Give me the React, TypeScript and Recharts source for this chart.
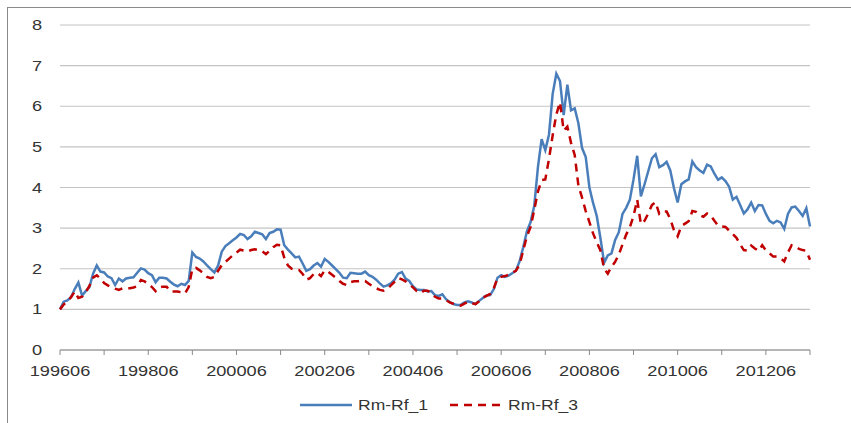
import { LineChart, Line, XAxis, YAxis, CartesianGrid, Legend } from "recharts";

// monthly series, 199606 .. 201306
const rmRf1 = [
  1.0, 1.19, 1.22, 1.3, 1.5, 1.66, 1.34, 1.45, 1.55, 1.88, 2.08, 1.93, 1.91, 1.81, 1.77, 1.6, 1.76, 1.69, 1.76, 1.78,
  1.79, 1.9, 2.01, 1.98, 1.89, 1.84, 1.67, 1.78, 1.78, 1.76, 1.68, 1.61, 1.57, 1.63, 1.6, 1.7, 2.4, 2.29, 2.25, 2.18,
  2.08, 1.99, 1.91, 2.08, 2.42, 2.56, 2.63, 2.7, 2.77, 2.86, 2.83, 2.73, 2.8, 2.91, 2.88, 2.85, 2.73, 2.88, 2.91, 2.97,
  2.96, 2.58, 2.47, 2.38, 2.28, 2.3, 2.13, 1.95, 1.99, 2.08, 2.14, 2.05, 2.24, 2.17, 2.08, 1.99, 1.9, 1.78, 1.77, 1.9,
  1.89, 1.88, 1.88, 1.93, 1.84, 1.8, 1.73, 1.64, 1.56, 1.59, 1.64, 1.73, 1.88, 1.92, 1.76, 1.7, 1.57, 1.49, 1.48, 1.48,
  1.44, 1.45, 1.35, 1.33, 1.37, 1.25, 1.18, 1.13, 1.11, 1.11, 1.17, 1.2, 1.17, 1.13, 1.21, 1.28, 1.34, 1.35, 1.5, 1.78,
  1.84, 1.8, 1.83, 1.89, 1.95, 2.18, 2.53, 2.92, 3.15, 3.55, 4.5, 5.19, 4.92, 5.3, 6.3, 6.8, 6.62, 5.78, 6.53, 5.9,
  5.95, 5.58, 4.97, 4.75, 4.0, 3.62, 3.3, 2.75, 2.15, 2.33, 2.38, 2.71, 2.9, 3.35, 3.5, 3.7, 4.2, 4.78, 3.78, 4.08,
  4.4, 4.72, 4.82, 4.5, 4.55, 4.63, 4.42, 3.98, 3.63, 4.08, 4.15, 4.2, 4.64, 4.5, 4.42, 4.36, 4.56, 4.52, 4.34, 4.19,
  4.25, 4.16, 4.02, 3.7, 3.77, 3.57, 3.36, 3.46, 3.63, 3.42, 3.57, 3.56, 3.35, 3.18, 3.12, 3.18, 3.14, 2.98, 3.35, 3.51,
  3.53, 3.42, 3.3, 3.49, 3.04,
];

const rmRf3 = [
  1.0, 1.12, 1.2, 1.3, 1.44, 1.28, 1.31, 1.42, 1.58, 1.78, 1.84, 1.76, 1.65, 1.59, 1.55, 1.51, 1.48, 1.52, 1.52, 1.52,
  1.54, 1.57, 1.72, 1.69, 1.63, 1.55, 1.45, 1.54, 1.56, 1.56, 1.44, 1.44, 1.44, 1.42, 1.39, 1.55, 2.0, 2.02, 1.96, 1.89,
  1.8, 1.77, 1.8, 1.95, 2.09, 2.17, 2.25, 2.33, 2.4, 2.47, 2.45, 2.42, 2.46, 2.48, 2.46, 2.43, 2.36, 2.44, 2.53, 2.59,
  2.58, 2.27, 2.08, 2.0, 1.97, 1.97, 1.87, 1.73, 1.77, 1.87, 1.9, 1.82, 1.96, 1.92, 1.85, 1.78, 1.7, 1.63, 1.6, 1.67,
  1.69, 1.69, 1.71, 1.7, 1.63, 1.57, 1.52, 1.48, 1.46, 1.5, 1.59, 1.68, 1.77, 1.74, 1.69, 1.62, 1.54, 1.45, 1.4, 1.46,
  1.46, 1.4, 1.31, 1.27, 1.27, 1.23, 1.17, 1.14, 1.12, 1.09, 1.14, 1.19, 1.15, 1.13, 1.2, 1.29, 1.33, 1.38, 1.52, 1.77,
  1.8, 1.82, 1.85, 1.9, 1.95, 2.1, 2.45, 2.8, 3.03, 3.45, 3.9, 4.18, 4.2, 4.7, 5.28, 5.8, 6.1, 5.4, 5.5, 5.1,
  4.8, 4.05, 3.75, 3.42, 3.15, 2.87, 2.65, 2.45, 2.0, 1.88, 2.05, 2.17, 2.35, 2.6, 2.84, 3.02, 3.3, 3.7, 3.1, 3.18,
  3.36, 3.57, 3.64, 3.35, 3.41, 3.41, 3.22, 2.95, 2.8, 3.05, 3.11, 3.17, 3.42, 3.4, 3.32, 3.28, 3.36, 3.31, 3.18, 3.06,
  3.04, 3.03, 2.94, 2.85, 2.76, 2.6, 2.46, 2.45, 2.57, 2.5, 2.44, 2.58, 2.45, 2.38, 2.3, 2.3, 2.26, 2.18, 2.4, 2.58,
  2.55, 2.49, 2.46, 2.44, 2.22,
];

const START_YEAR = 1996;
const START_MONTH = 6;

const months = rmRf1.map((_, i) => {
  const m = START_MONTH - 1 + i;
  const y = START_YEAR + Math.floor(m / 12);
  const mm = (m % 12) + 1;
  return `${y}${mm < 10 ? "0" : ""}${mm}`;
});

// tick marks every year, labels every two years
const tickMonths = months.filter((_, i) => i % 12 === 0);
const labelMonths = months.filter((_, i) => i % 24 === 0);
const yTicks = [0, 1, 2, 3, 4, 5, 6, 7, 8];

const data = months.map((m, i) => ({ m, a: rmRf1[i], b: rmRf3[i] }));

const BLUE = "#4a7ebb";
const RED = "#c00000";
const FONT = "'Liberation Sans', Arial, sans-serif";

function XTick(props: any) {
  const { x, y, payload } = props;
  if (!labelMonths.includes(payload.value)) return null;
  return (
    <g transform={`translate(${x},${y})`}>
      <text
        transform="scale(1.3,1)"
        textAnchor="middle"
        dy={15}
        fontSize={14}
        fontFamily={FONT}
        fill="#333"
      >
        {payload.value}
      </text>
    </g>
  );
}

function YTick(props: any) {
  const { x, y, payload } = props;
  return (
    <g transform={`translate(${x},${y})`}>
      <text transform="scale(1.3,1)" textAnchor="end" dy={5} fontSize={14} fontFamily={FONT} fill="#333">
        {payload.value}
      </text>
    </g>
  );
}

function LegendBox() {
  const item = (label: string, color: string, dash?: string) => (
    <span style={{ display: "inline-flex", alignItems: "center", margin: "0 11px" }}>
      <svg width={52} height={6}>
        <line x1={0} y1={3} x2={52} y2={3} stroke={color} strokeWidth={2.5} strokeDasharray={dash} />
      </svg>
      <span
        style={{
          display: "inline-block",
          marginLeft: 6,
          fontFamily: FONT,
          fontSize: 14,
          color: "#333",
          transform: "scaleX(1.25)",
          transformOrigin: "left center",
          width: 70,
        }}
      >
        {label}
      </span>
    </span>
  );
  return (
    <div style={{ display: "flex", justifyContent: "center", paddingLeft: 18 }}>
      {item("Rm-Rf_1", BLUE)}
      {item("Rm-Rf_3", RED, "8 6")}
    </div>
  );
}

export default function App() {
  return (
    <div
      style={{
        position: "absolute",
        left: 7,
        top: 7,
        width: 844,
        height: 416,
        borderLeft: "1px solid #8a8a8a",
        borderTop: "1px solid #8a8a8a",
        background: "#fff",
      }}
    >
      <LineChart width={844} height={416} data={data} margin={{ top: 17, right: 42, left: 0, bottom: 44 }}>
        <CartesianGrid vertical={false} stroke="#c4c4c4" strokeWidth={1.2} />
        <XAxis
          dataKey="m"
          ticks={tickMonths}
          interval={0}
          tick={<XTick />}
          tickSize={5}
          tickMargin={6}
          height={30}
          stroke="#8a8a8a"
          tickLine={{ stroke: "#8a8a8a" }}
        />
        <YAxis
          domain={[0, 8]}
          ticks={yTicks}
          axisLine={false}
          tickLine={false}
          tickSize={0}
          tickMargin={18}
          width={52}
          tick={<YTick />}
        />
        <Legend
          verticalAlign="middle"
          layout="horizontal"
          content={<LegendBox />}
          wrapperStyle={{ top: 389, left: 0, width: 844 }}
        />
        <Line
          type="linear"
          dataKey="a"
          name="Rm-Rf_1"
          stroke={BLUE}
          strokeWidth={2.5}
          dot={false}
          isAnimationActive={false}
        />
        <Line
          type="linear"
          dataKey="b"
          name="Rm-Rf_3"
          stroke={RED}
          strokeWidth={2.5}
          strokeDasharray="8 6"
          dot={false}
          isAnimationActive={false}
        />
      </LineChart>
    </div>
  );
}
